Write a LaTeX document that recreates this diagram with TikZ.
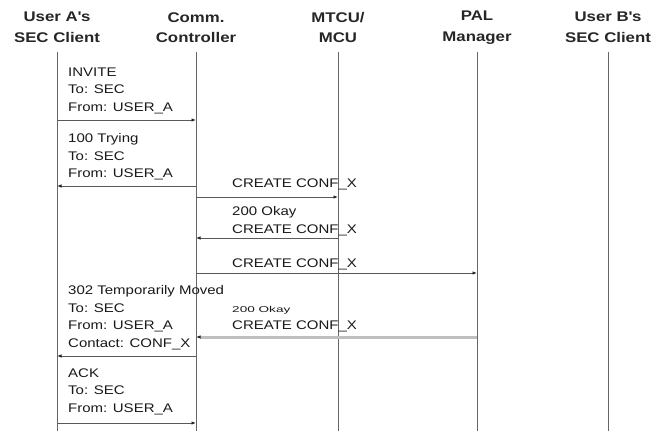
\documentclass[tikz,border=0pt]{standalone}
\usepackage{fontspec}
\setmainfont{Liberation Sans}[FakeStretch=1.2]
\usetikzlibrary{arrows.meta}
\begin{document}
\begin{tikzpicture}[x=1pt,y=1pt,
  hdr/.style={font=\fontsize{14}{20.5}\selectfont\bfseries, align=center, text=black!85, inner sep=0pt},
  msg/.style={font=\fontsize{12.5}{17.5}\selectfont, align=left, anchor=north west, inner sep=0pt, text=black!90},
  small/.style={font=\fontsize{8.5}{10}\selectfont\addfontfeature{FakeStretch=1.6}, anchor=north west, inner sep=0pt, text=black!90},
  life/.style={draw=black!60, line width=0.9pt},
  msgline/.style={draw=black!65, line width=0.9pt, -{Latex[length=4.5pt,width=3.5pt,color=black!85]}},
  grayline/.style={draw=black!25, line width=3pt, -{Latex[length=4.5pt,width=3.5pt,color=black!85]}},
]
\useasboundingbox (0,0) rectangle (652,-431);
% headers
\node[hdr] (hA) at (57,-27.5) {User A\textquotesingle s\\SEC Client};
\node[hdr] (hC) at (196,-27.5) {Comm.\\Controller};
\node[hdr] (hM) at (338,-27.5) {MTCU/\\MCU};
\node[hdr] (hP) at (477,-27.5) {PAL\\Manager};
\node[hdr] (hB) at (608,-27.5) {User B\textquotesingle s\\SEC Client};
% lifelines
\coordinate (At) at (57,-52); \coordinate (Ab) at (57,-431);
\coordinate (Ct) at (196,-52); \coordinate (Cb) at (196,-431);
\coordinate (Mt) at (338,-52); \coordinate (Mb) at (338,-431);
\coordinate (Pt) at (477,-52); \coordinate (Pb) at (477,-431);
\coordinate (Bt) at (608,-52); \coordinate (Bb) at (608,-431);
\draw[life] (At) -- (Ab);
\draw[life] (Ct) -- (Cb);
\draw[life] (Mt) -- (Mb);
\draw[life] (Pt) -- (Pb);
\draw[life] (Bt) -- (Bb);
% message points
\coordinate (A1) at (57,-120); \coordinate (C1) at (196,-120);
\coordinate (A2) at (57,-186); \coordinate (C2) at (196,-186);
\coordinate (C3) at (196,-197); \coordinate (M3) at (338,-197);
\coordinate (C4) at (196,-238); \coordinate (M4) at (338,-238);
\coordinate (C5) at (196,-273); \coordinate (P5) at (477,-273);
\coordinate (C6) at (196,-337); \coordinate (P6) at (477,-337);
\coordinate (A7) at (57,-356); \coordinate (C7) at (196,-356);
\coordinate (A8) at (57,-423); \coordinate (C8) at (196,-423);
% arrows
\draw[grayline] (P6) -- (C6);
\draw[msgline] (A1) -- (C1);
\draw[msgline] (C2) -- (A2);
\draw[msgline] (C3) -- (M3);
\draw[msgline] (M4) -- (C4);
\draw[msgline] (C5) -- (P5);
\draw[msgline] (C7) -- (A7);
\draw[msgline] (A8) -- (C8);
% labels
\node[msg] (t1) at (68,-67.5) {INVITE\\To: SEC\\From: USER\_A};
\node[msg] (t2) at (68,-133.5) {100 Trying\\To: SEC\\From: USER\_A};
\node[msg] (t3) at (232,-178.5) {CREATE CONF\_X};
\node[msg] (t4) at (232,-206.5) {200 Okay\\CREATE CONF\_X};
\node[msg] (t5) at (232,-258.5) {CREATE CONF\_X};
\node[small] (t6a) at (232,-306) {200 Okay};
\node[msg] (t6b) at (232,-320.5) {CREATE CONF\_X};
\node[msg] (t7) at (68,-285.5) {302 Temporarily Moved\\To: SEC\\From: USER\_A\\Contact: CONF\_X};
\node[msg] (t8) at (68,-368.5) {ACK\\To: SEC\\From: USER\_A};
\end{tikzpicture}
\end{document}
